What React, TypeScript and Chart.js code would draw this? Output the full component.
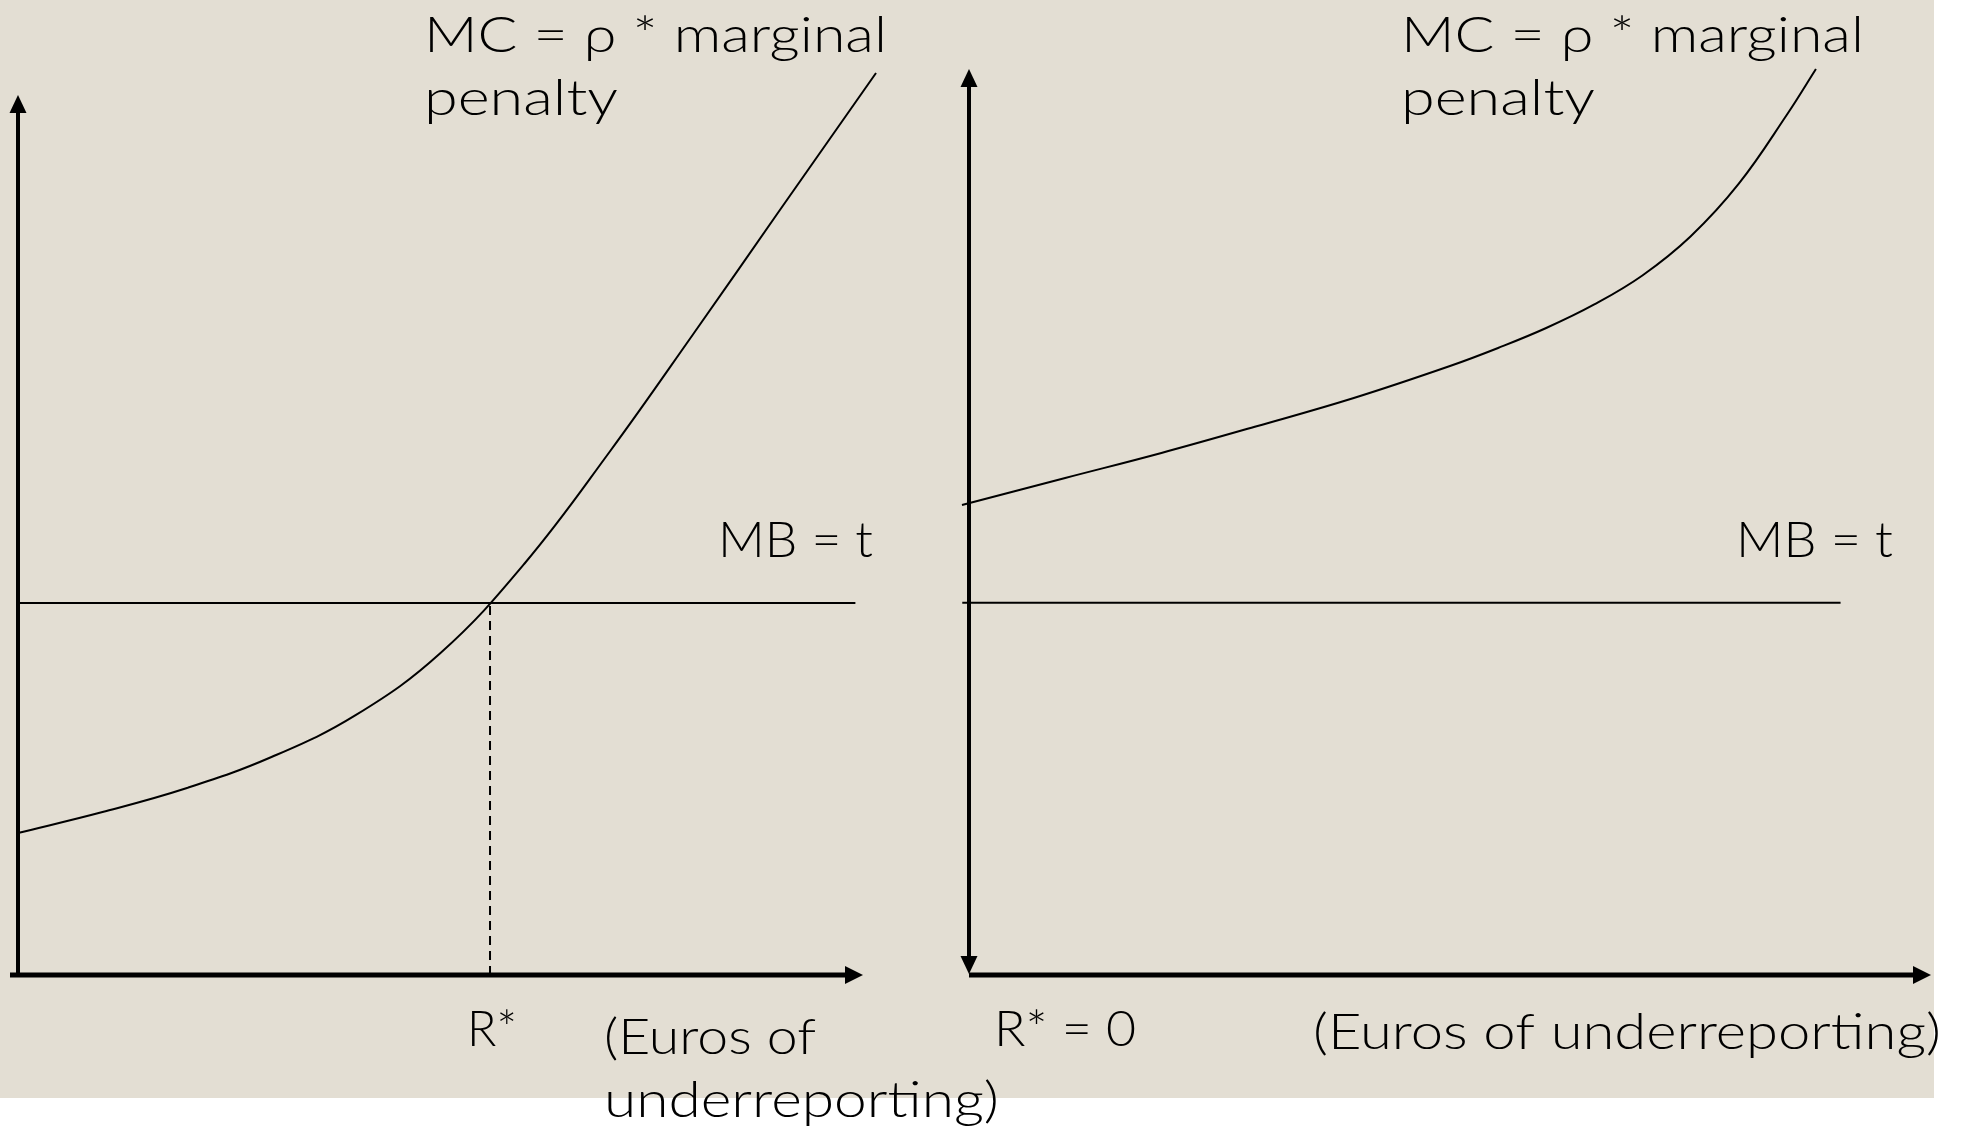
import React, { useEffect, useRef } from "react";
import { Chart, registerables } from "chart.js";

Chart.register(...registerables);

// ---------------- Data ----------------
// Left panel: MC curve crosses MB = t at R* > 0
const leftMcX = [0, 1, 2, 3, 4, 5, 6, 7, 8, 9, 10.154];
const leftMcY = [1.614, 1.852, 2.125, 2.477, 2.955, 3.659, 4.682, 5.943, 7.295, 8.67, 10.25];
const leftMbY = 4.227;
const leftMbX = [0, 9.91];
const leftRStar = 5.586;

// Right panel: MC always above MB, so R* = 0
const rightMcX = [-0.073, 1, 2, 3, 4, 5, 5.5, 6, 6.5, 7, 7.5, 8, 8.5, 8.804];
const rightMcY = [5.188, 5.486, 5.762, 6.06, 6.369, 6.722, 6.921, 7.141, 7.401, 7.721, 8.151, 8.731, 9.492, 10.0];
const rightMbY = 4.11;
const rightMbX = [-0.07, 9.06];

// Labels
const mcLabelLines = ["MC = \u03c1 * marginal", "penalty"];
const mbLabel = "MB = t";
const leftRLabel = "R*";
const rightRLabel = "R* = 0";
const leftXLabelLines = ["(Euros of", "underreporting)"];
const rightXLabel = "(Euros of underreporting)";

// ---------------- Styling / layout ----------------
const W = 1966;
const H = 1127;
const BEIGE = "#e3ded3";
const FONT = "Lato, 'DejaVu Sans', sans-serif";
const FONT_SIZE = 50;
const FONT_WEIGHT = 300;

type Lbl = { text: string; x: number; y: number; w: number };

const leftLabels: Lbl[] = [
  { text: mcLabelLines[0], x: 424, y: 52, w: 463 },
  { text: mcLabelLines[1], x: 424, y: 115, w: 194 },
  { text: mbLabel, x: 718, y: 557, w: 155 },
  { text: leftRLabel, x: 467, y: 1046, w: 50 },
  { text: leftXLabelLines[0], x: 604, y: 1054, w: 212 },
  { text: leftXLabelLines[1], x: 604, y: 1117, w: 395 },
];

const rightLabels: Lbl[] = [
  { text: mcLabelLines[0], x: 1401, y: 52, w: 463 },
  { text: mcLabelLines[1], x: 1401, y: 115, w: 194 },
  { text: mbLabel, x: 1736, y: 557, w: 157 },
  { text: rightRLabel, x: 994, y: 1046, w: 142 },
  { text: rightXLabel, x: 1313, y: 1049, w: 628 },
];

function drawFitText(ctx: CanvasRenderingContext2D, l: Lbl) {
  ctx.save();
  ctx.font = `${FONT_WEIGHT} ${FONT_SIZE}px ${FONT}`;
  const natural = ctx.measureText(l.text).width;
  const sx = natural > 0 ? l.w / natural : 1;
  ctx.translate(l.x, l.y);
  ctx.scale(sx, 1);
  ctx.textAlign = "left";
  ctx.textBaseline = "alphabetic";
  ctx.fillStyle = "#000";
  ctx.fillText(l.text, 0, 0);
  ctx.restore();
}

function arrowHead(ctx: CanvasRenderingContext2D, tipX: number, tipY: number, dx: number, dy: number, len = 18, half = 8.5) {
  const bx = tipX - dx * len;
  const by = tipY - dy * len;
  const px = -dy;
  const py = dx;
  ctx.beginPath();
  ctx.moveTo(tipX, tipY);
  ctx.lineTo(bx + px * half, by + py * half);
  ctx.lineTo(bx - px * half, by - py * half);
  ctx.closePath();
  ctx.fill();
}

function makeAxesPlugin(side: "left" | "right") {
  return {
    id: "axesArrows" + side,
    afterDatasetsDraw(chart: any) {
      const ctx: CanvasRenderingContext2D = chart.ctx;
      const xs = chart.scales.x;
      const ys = chart.scales.y;
      const x0 = xs.getPixelForValue(0);
      const xEnd = xs.getPixelForValue(10);
      const y0 = ys.getPixelForValue(0);
      const yEnd = ys.getPixelForValue(10);
      ctx.save();
      ctx.strokeStyle = "#000";
      ctx.fillStyle = "#000";
      ctx.lineCap = "butt";
      ctx.lineWidth = 4;
      ctx.beginPath();
      if (side === "left") {
        ctx.moveTo(x0, y0 + 2);
        ctx.lineTo(x0, yEnd + 16);
        ctx.stroke();
        arrowHead(ctx, x0, yEnd, 0, -1);
      } else {
        ctx.moveTo(x0, y0 - 16);
        ctx.lineTo(x0, yEnd + 16);
        ctx.stroke();
        arrowHead(ctx, x0, yEnd, 0, -1);
        arrowHead(ctx, x0, y0 - 1, 0, 1);
      }
      ctx.lineWidth = 5;
      ctx.beginPath();
      const startX = side === "left" ? x0 - 8 : x0;
      ctx.moveTo(startX, y0);
      ctx.lineTo(xEnd - 16, y0);
      ctx.stroke();
      arrowHead(ctx, xEnd, y0, 1, 0, 18, 9);
      ctx.restore();
    },
  };
}

function makeLabelsPlugin(labels: Lbl[], withBackground: boolean) {
  return {
    id: "labelsAndBg" + (withBackground ? "L" : "R"),
    beforeDraw(chart: any) {
      if (!withBackground) return;
      const ctx: CanvasRenderingContext2D = chart.ctx;
      ctx.save();
      ctx.fillStyle = "#ffffff";
      ctx.fillRect(0, 0, W, H);
      ctx.fillStyle = BEIGE;
      ctx.fillRect(0, 0, 1934, 1098);
      ctx.restore();
    },
    afterDraw(chart: any) {
      const ctx: CanvasRenderingContext2D = chart.ctx;
      labels.forEach((l) => drawFitText(ctx, l));
    },
  };
}

function pts(xs: number[], ys: number[]) {
  return xs.map((x, i) => ({ x, y: ys[i] }));
}

const lineBase = {
  borderColor: "#000",
  backgroundColor: "#000",
  pointRadius: 0,
  fill: false,
  clip: false as any,
  capBezierPoints: false,
};

function baseOptions(padding: { left: number; right: number; top: number; bottom: number }) {
  return {
    responsive: false,
    animation: false as const,
    events: [] as any[],
    layout: { padding },
    elements: { line: { capBezierPoints: false } },
    plugins: { legend: { display: false }, tooltip: { enabled: false }, title: { display: false } },
    scales: {
      x: { type: "linear" as const, min: 0, max: 10, display: false },
      y: { type: "linear" as const, min: 0, max: 10, display: false },
    },
  };
}

export default function App() {
  const leftRef = useRef<HTMLCanvasElement>(null);
  const rightRef = useRef<HTMLCanvasElement>(null);

  useEffect(() => {
    const left = new Chart(leftRef.current as HTMLCanvasElement, {
      type: "line",
      data: {
        datasets: [
          {
            ...lineBase,
            label: "MC",
            data: pts(leftMcX, leftMcY),
            borderWidth: 2,
            tension: 0.4,
          },
          {
            ...lineBase,
            label: "MB = t",
            data: pts(leftMbX, [leftMbY, leftMbY]),
            borderWidth: 2,
          },
          {
            ...lineBase,
            label: "R*",
            data: pts([leftRStar, leftRStar], [0, leftMbY]),
            borderWidth: 2,
            borderDash: [9, 6],
          },
        ] as any,
      },
      options: baseOptions({ left: 18, right: W - 863, top: 95, bottom: H - 975 }) as any,
      plugins: [makeLabelsPlugin(leftLabels, true), makeAxesPlugin("left")],
    });

    const right = new Chart(rightRef.current as HTMLCanvasElement, {
      type: "line",
      data: {
        datasets: [
          {
            ...lineBase,
            label: "MC",
            data: pts(rightMcX, rightMcY),
            borderWidth: 2,
            tension: 0.4,
          },
          {
            ...lineBase,
            label: "MB = t",
            data: pts(rightMbX, [rightMbY, rightMbY]),
            borderWidth: 2,
          },
        ] as any,
      },
      options: baseOptions({ left: 969, right: W - 1931, top: 69, bottom: H - 975 }) as any,
      plugins: [makeLabelsPlugin(rightLabels, false), makeAxesPlugin("right")],
    });

    return () => {
      left.destroy();
      right.destroy();
    };
  }, []);

  return (
    <div style={{ position: "fixed", left: 0, top: 0, width: W, height: H }}>
      <canvas ref={leftRef} width={W} height={H} style={{ position: "absolute", left: 0, top: 0, width: W, height: H }} />
      <canvas ref={rightRef} width={W} height={H} style={{ position: "absolute", left: 0, top: 0, width: W, height: H }} />
    </div>
  );
}
